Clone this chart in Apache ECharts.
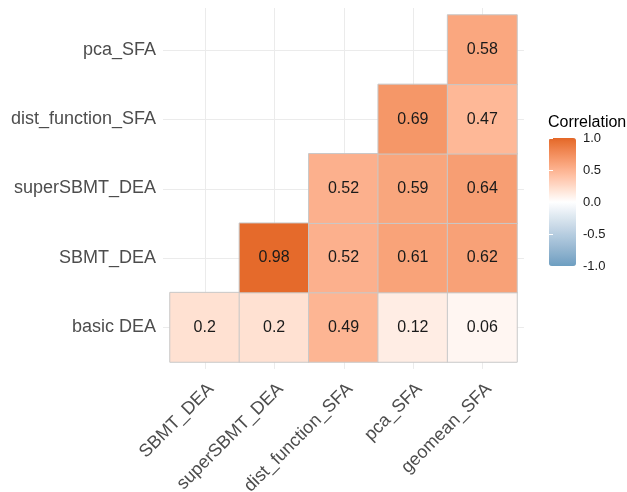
<!DOCTYPE html>
<html><head><meta charset="utf-8">
<script src="https://cdn.jsdelivr.net/npm/echarts@6/dist/echarts.min.js"></script>
<style>html,body{margin:0;padding:0;background:#fff}#c{width:627px;height:492px}</style>
</head><body><div id="c"></div>
<script>
// ---- data ----
const xCats = ['SBMT_DEA', 'superSBMT_DEA', 'dist_function_SFA', 'pca_SFA', 'geomean_SFA'];
const yCats = ['basic DEA', 'SBMT_DEA', 'superSBMT_DEA', 'dist_function_SFA', 'pca_SFA'];
// one array per row (bottom to top), one value per x category; null = empty cell
const rowBasicDEA    = [0.2, 0.2, 0.49, 0.12, 0.06];
const rowSBMT_DEA    = [null, 0.98, 0.52, 0.61, 0.62];
const rowSuperSBMT   = [null, null, 0.52, 0.59, 0.64];
const rowDistFunc    = [null, null, null, 0.69, 0.47];
const rowPcaSFA      = [null, null, null, null, 0.58];
const legendTicks = [-1, -0.5, 0, 0.5, 1];
const legendTitle = 'Correlation';

const lowColor = '#6D9EC1', midColor = '#FFFFFF', highColor = '#E46726';

// ---- Lab colour interpolation (like ggplot's gradient2) ----
function hexToRgb(h){h=h.replace('#','');return [0,2,4].map(i=>parseInt(h.substr(i,2),16));}
function s2l(c){c/=255;return c<=0.04045?c/12.92:Math.pow((c+0.055)/1.055,2.4);}
function l2s(c){c=c<=0.0031308?12.92*c:1.055*Math.pow(c,1/2.4)-0.055;return Math.max(0,Math.min(255,Math.round(c*255)));}
const Xn=0.95047,Yn=1,Zn=1.08883;
function rgbToLab(rgb){const [r,g,b]=rgb.map(s2l);
  const X=r*0.4124+g*0.3576+b*0.1805, Y=r*0.2126+g*0.7152+b*0.0722, Z=r*0.0193+g*0.1192+b*0.9505;
  const f=t=>t>0.008856?Math.cbrt(t):(7.787*t+16/116);
  const fx=f(X/Xn),fy=f(Y/Yn),fz=f(Z/Zn);
  return [116*fy-16,500*(fx-fy),200*(fy-fz)];}
function labToHex(lab){const fy=(lab[0]+16)/116,fx=fy+lab[1]/500,fz=fy-lab[2]/200;
  const fi=t=>t>0.206893?t*t*t:(t-16/116)/7.787;
  const X=fi(fx)*Xn,Y=fi(fy)*Yn,Z=fi(fz)*Zn;
  const r=3.2406*X-1.5372*Y-0.4986*Z,g=-0.9689*X+1.8758*Y+0.0415*Z,b=0.0557*X-0.2040*Y+1.0570*Z;
  return '#'+[r,g,b].map(l2s).map(v=>v.toString(16).padStart(2,'0')).join('');}
const labLow=rgbToLab(hexToRgb(lowColor)), labMid=rgbToLab(hexToRgb(midColor)), labHigh=rgbToLab(hexToRgb(highColor));
const colorStops=[];
for(let k=0;k<=40;k++){const t=-1+k*0.05;const end=t<0?labLow:labHigh;const a=Math.abs(t);
  colorStops.push(labToHex(labMid.map((m,i)=>m+(end[i]-m)*a)));}

// ---- build heatmap data ----
const rows=[rowBasicDEA,rowSBMT_DEA,rowSuperSBMT,rowDistFunc,rowPcaSFA];
const heatData=[];
rows.forEach((r,yi)=>r.forEach((v,xi)=>{if(v!==null)heatData.push([xi,yi,v]);}));

const FONT='"Liberation Sans", Arial, sans-serif';
const chart=echarts.init(document.getElementById('c'),null,{renderer:'canvas'});

function gridLineItem(vertical){
  return function(params,api){
    const cs=params.coordSys;
    const p=api.coord([api.value(0),api.value(1)]);
    const sz=api.size([1,1]);
    const gs={stroke:'#EBEBEB',lineWidth:1};
    if(vertical){const x=Math.round(p[0])+0.5;const pad=sz[1]*0.1;
      return {type:'line',shape:{x1:x,y1:cs.y-pad,x2:x,y2:cs.y+cs.height+pad},style:gs};}
    const y=Math.round(p[1])+0.5;const pad=sz[0]*0.1;
    return {type:'line',shape:{x1:cs.x-pad,y1:y,x2:cs.x+cs.width+pad,y2:y},style:gs};
  };
}

chart.setOption({
  animation:false,
  backgroundColor:'#ffffff',
  textStyle:{fontFamily:FONT},
  title:{text:legendTitle,left:548,top:115,padding:0,
    textStyle:{fontSize:16,fontWeight:'normal',color:'#000',fontFamily:FONT}},
  grid:[
    {left:170,top:15,width:347,height:347,outerBoundsMode:'none',containLabel:false},
    {left:549,top:138,width:27,height:128,outerBoundsMode:'none',containLabel:false}
  ],
  xAxis:[
    {type:'category',gridIndex:0,data:xCats,
      axisLine:{show:false},axisTick:{show:false},splitLine:{show:false},
      axisLabel:{rotate:45,margin:18,verticalAlign:'top',lineHeight:18,fontSize:18,color:'#4D4D4D',fontFamily:FONT,interval:0}},
    {type:'value',gridIndex:1,show:false,min:0,max:1}
  ],
  yAxis:[
    {type:'category',gridIndex:0,data:yCats,
      axisLine:{show:false},axisTick:{show:false},splitLine:{show:false},
      axisLabel:{margin:14,fontSize:18,color:'#4D4D4D',fontFamily:FONT,interval:0}},
    {type:'value',gridIndex:1,position:'right',min:legendTicks[0],max:legendTicks[legendTicks.length-1],interval:0.5,z:10,
      axisLine:{show:false},splitLine:{show:false},
      axisTick:{show:true,inside:true,length:4,lineStyle:{color:'#ffffff',width:1}},
      axisLabel:{margin:7,fontSize:13,color:'#1A1A1A',fontFamily:FONT,formatter:v=>v.toFixed(1)}},
    {type:'value',gridIndex:1,position:'left',min:legendTicks[0],max:legendTicks[legendTicks.length-1],interval:0.5,z:10,
      axisLine:{show:false},splitLine:{show:false},axisLabel:{show:false},
      axisTick:{show:true,inside:true,length:4,lineStyle:{color:'#ffffff',width:1}}}
  ],
  visualMap:{type:'continuous',min:-1,max:1,dimension:2,seriesIndex:2,
    left:549,top:138,itemWidth:27,itemHeight:128,padding:0,text:null,calculable:false,hoverLink:false,
    inRange:{color:colorStops}},
  series:[
    {type:'custom',xAxisIndex:0,yAxisIndex:0,clip:false,silent:true,z:1,
      data:xCats.map(c=>[c,yCats[0]]),renderItem:gridLineItem(true)},
    {type:'custom',xAxisIndex:0,yAxisIndex:0,clip:false,silent:true,z:1,
      data:yCats.map(c=>[xCats[0],c]),renderItem:gridLineItem(false)},
    {type:'heatmap',xAxisIndex:0,yAxisIndex:0,z:2,data:heatData,
      itemStyle:{borderColor:'#C8C8C8',borderWidth:1},
      label:{show:true,fontSize:16,color:'#1A1A1A',fontFamily:FONT,formatter:p=>String(p.value[2])},
      emphasis:{disabled:true}}
  ]
});
</script>
</body></html>
